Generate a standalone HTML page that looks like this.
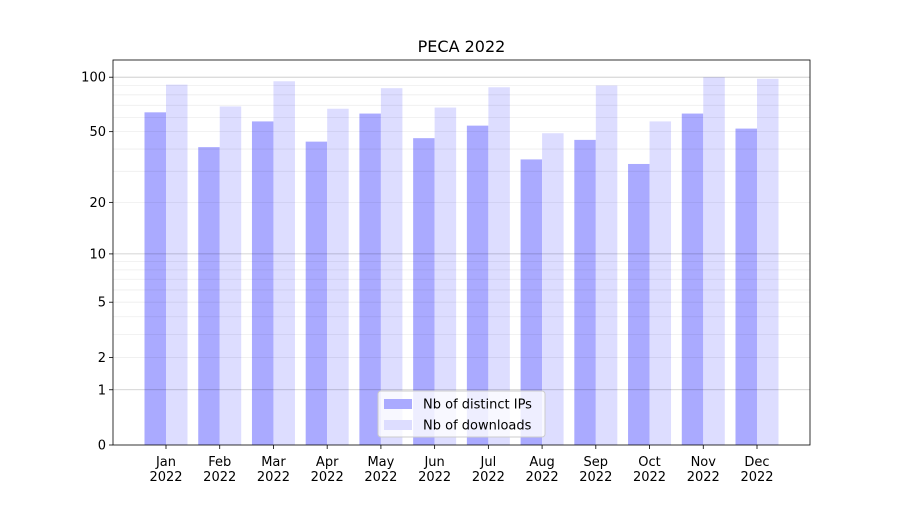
<!DOCTYPE html>
<html><head><meta charset="utf-8"><style>
body{margin:0;background:#fff;font-family:"Liberation Sans","DejaVu Sans",sans-serif;}
svg text{font-family:"DejaVu Sans","Liberation Sans",sans-serif;}
</style></head><body>
<svg id="chart" width="900" height="500"></svg>
<script>
const months=["Jan","Feb","Mar","Apr","May","Jun","Jul","Aug","Sep","Oct","Nov","Dec"];
const ips=[64,41,57,44,63,46,54,35,45,33,63,52];
const downloads=[91,69,95,67,87,68,88,49,90,57,100,98];
const yTicks=[0,1,2,5,10,20,50,100];
const minorTicks=[2,3,4,5,6,7,8,9,20,30,40,50,60,70,80,90];
const majorGrid=[1,10,100];
const NS="http://www.w3.org/2000/svg";
const svg=document.getElementById('chart');
const L=113,R=810,T=60,B=445,K=183.5;
function y(v){return B-Math.log10(1+v)*K;}
const step=(757-166)/11;
function xc(i){return 166+i*step;}
const bw=21.5;
function el(tag,attrs,parent){const e=document.createElementNS(NS,tag);for(const k in attrs)e.setAttribute(k,attrs[k]);(parent||svg).appendChild(e);return e;}
// bars
months.forEach((m,i)=>{
 const a=el('rect',{x:xc(i)-bw,y:y(ips[i]),width:bw,height:B-y(ips[i]),fill:'#aaaaff'});
 
 
 const b=el('rect',{x:xc(i),y:y(downloads[i]),width:bw,height:B-y(downloads[i]),fill:'#ddddff'});
 
 
 el('line',{x1:xc(i),x2:xc(i),y1:B,y2:B+4,stroke:'#000','stroke-width':0.8});
 const t=el('text',{x:xc(i),y:B+21,'text-anchor':'middle','font-size':13});
 t.textContent=m;
 
 
 const t2=el('text',{x:xc(i),y:B+36,'text-anchor':'middle','font-size':13});
 t2.textContent='2022';
 
 
});
// grid on top
minorTicks.forEach(v=>{const g=el('line',{x1:L,x2:R,y1:y(v),y2:y(v),stroke:'#000','stroke-opacity':0.07,'stroke-width':0.8});

});
majorGrid.forEach(v=>{const g=el('line',{x1:L,x2:R,y1:y(v),y2:y(v),stroke:'#000','stroke-opacity':0.22,'stroke-width':0.8});

});
// y ticks
yTicks.forEach(v=>{
 el('line',{x1:L-4,x2:L,y1:y(v),y2:y(v),stroke:'#000','stroke-width':0.8});
 const t=el('text',{x:L-7,y:y(v)+4.5,'text-anchor':'end','font-size':13});
 t.textContent=v;
 
 
});
const f=el('rect',{x:L,y:T,width:R-L,height:B-T,fill:'none',stroke:'#000','stroke-width':0.8});


const title=el('text',{x:(L+R)/2,y:52,'text-anchor':'middle','font-size':16});
title.textContent='PECA 2022';


// legend
const lg=el('g',{});


el('rect',{x:378,y:391,width:167,height:46,fill:'#fff','fill-opacity':0.8,stroke:'#ccc',rx:3},lg);
[['#aaaaff','Nb of distinct IPs',404],['#ddddff','Nb of downloads',425]].forEach(([c,l,yy])=>{
 const e=el('g',{},lg);
 
 
 el('rect',{x:384,y:yy-5,width:28,height:10,fill:c},e);
 const t=el('text',{x:423,y:yy+4.5,'font-size':13},e);
 t.textContent=l;
});
</script>
</body></html>
